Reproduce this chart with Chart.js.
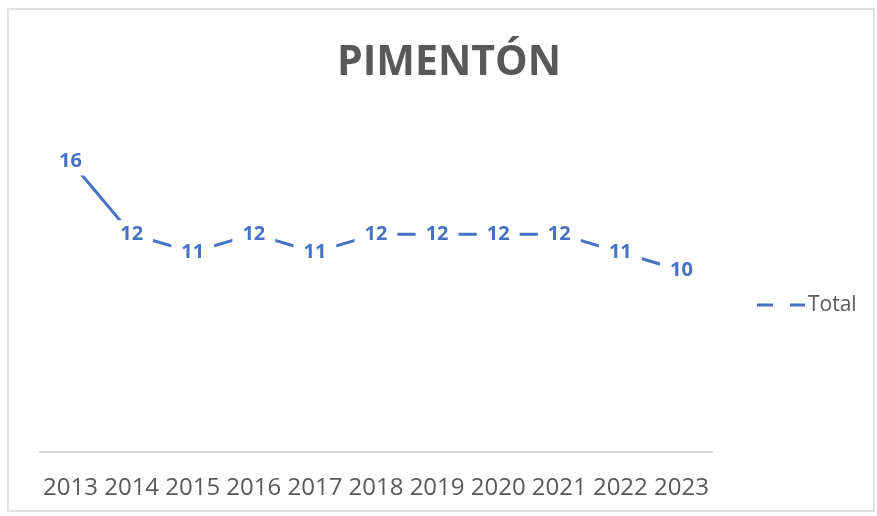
<!DOCTYPE html>
<html>
<head>
<meta charset="utf-8">
<script src="https://cdn.jsdelivr.net/npm/chart.js@4"></script>
<style>
  html, body { margin: 0; padding: 0; background: #fff; }
  #wrap { position: relative; width: 877px; height: 516px; }
  #frame { position: absolute; left: 7px; top: 8px; width: 864px; height: 500px; border: 2px solid #e2e2e2; }
  #chart { position: absolute; left: 0; top: 0; }
</style>
</head>
<body>
<div id="wrap">
  <div id="frame"></div>
  <canvas id="chart" width="877" height="516"></canvas>
</div>
<script>
const years = ['2013', '2014', '2015', '2016', '2017', '2018', '2019', '2020', '2021', '2022', '2023'];
const totals = [16, 12, 11, 12, 11, 12, 12, 12, 12, 11, 10];
const seriesName = 'Total';
const chartTitle = 'PIMENTÓN';

const BLUE = '#4472C4';
const GREY = '#595959';
const FONT = "'Open Sans', Calibri, sans-serif";

// labels sit on the points with a white box, so the line looks broken around them
const pointLabels = {
  id: 'pointLabels',
  afterDatasetsDraw(chart) {
    const ctx = chart.ctx;
    const meta = chart.getDatasetMeta(0);
    ctx.save();
    ctx.font = `bold 20px ${FONT}`;
    ctx.textAlign = 'center';
    ctx.textBaseline = 'middle';
    meta.data.forEach((pt, i) => {
      const txt = String(chart.data.datasets[0].data[i]);
      const w = ctx.measureText(txt).width;
      ctx.fillStyle = '#fff';
      ctx.fillRect(pt.x - w / 2 - 10, pt.y - 14, w + 20, 28);
      ctx.fillStyle = BLUE;
      ctx.fillText(txt, pt.x, pt.y);
    });
    ctx.restore();
  }
};

const sideLegend = {
  id: 'sideLegend',
  afterDraw(chart) {
    const ctx = chart.ctx;
    const x = chart.chartArea.right + 45;
    const y = 305;
    ctx.save();
    ctx.strokeStyle = BLUE;
    ctx.lineWidth = 3;
    ctx.beginPath();
    ctx.moveTo(x, y); ctx.lineTo(x + 16, y);
    ctx.moveTo(x + 33, y); ctx.lineTo(x + 48, y);
    ctx.stroke();
    ctx.fillStyle = GREY;
    ctx.font = `21px ${FONT}`;
    ctx.textBaseline = 'middle';
    ctx.fillText(chart.data.datasets[0].label, x + 51, y);
    ctx.restore();
  }
};

new Chart(document.getElementById('chart'), {
  type: 'line',
  data: {
    labels: years,
    datasets: [{
      label: seriesName,
      data: totals,
      borderColor: BLUE,
      borderWidth: 3,
      pointRadius: 0,
      tension: 0,
      fill: false
    }]
  },
  options: {
    responsive: false,
    animation: false,
    layout: { padding: { left: 21, right: 0, top: 0, bottom: 14 } },
    scales: {
      x: {
        offset: true,
        grid: { display: false, drawTicks: false },
        border: { display: true, color: '#d9d9d9', width: 2 },
        ticks: { color: GREY, font: { family: FONT, size: 24 }, padding: 22, maxRotation: 0, autoSkip: false },
        afterFit: s => { s.height = 50; }
      },
      y: {
        min: 0,
        max: 18,
        grid: { display: false },
        border: { display: false },
        ticks: { display: false },
        afterFit: s => { s.width = 19; }
      },
      yRight: {
        position: 'right',
        min: 0,
        max: 18,
        grid: { display: false },
        border: { display: false },
        ticks: { display: false },
        afterFit: s => { s.width = 165; }
      }
    },
    plugins: {
      legend: { display: false },
      tooltip: { enabled: false },
      title: {
        display: true,
        text: chartTitle,
        color: GREY,
        font: { family: FONT, size: 41, weight: 'bold' },
        padding: { top: 39, bottom: 37 }
      }
    }
  },
  plugins: [pointLabels, sideLegend]
});
</script>
</body>
</html>
